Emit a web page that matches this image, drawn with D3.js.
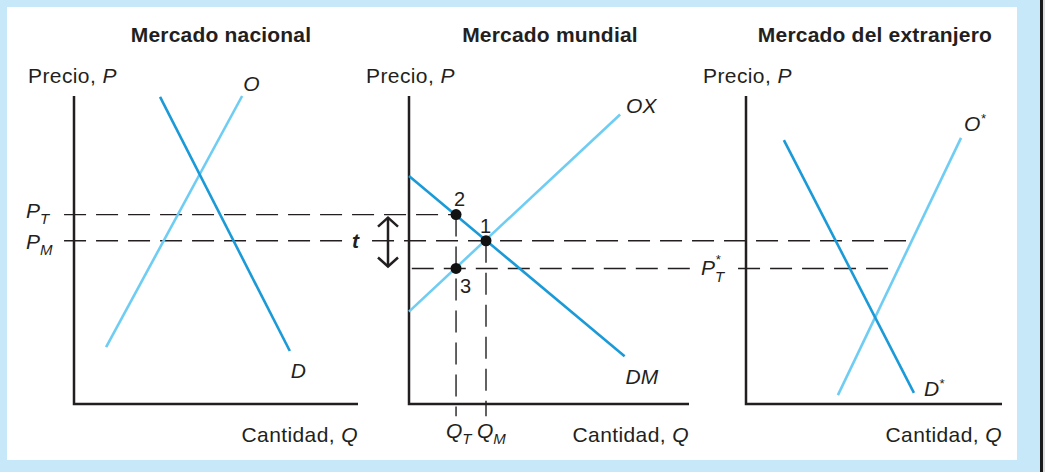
<!DOCTYPE html>
<html lang="es">
<head>
  <meta charset="utf-8">
  <title>Arancel: mercados nacional, mundial y del extranjero</title>
  <script src="https://d3js.org/d3.v7.min.js"></script>
  <style>
    body { margin: 0; background: #c6e8f8; }
    text { font-family: "Liberation Sans", Arial, sans-serif; fill: #231f20; font-size: 21px; }
    .titulo { font-weight: bold; font-size: 21px; letter-spacing: 0.2px; }
    .rotulo { font-size: 21px; letter-spacing: 0.4px; }
    .it { font-style: italic; }
    .num { font-size: 20px; }
    .eje { stroke: #231f20; stroke-width: 2.5; fill: none; }
    .guia { stroke: #231f20; stroke-width: 1.4; stroke-dasharray: 22,10; fill: none; }
    .oferta { stroke: #6fcdf4; stroke-width: 2.6; fill: none; }
    .demanda { stroke: #1b9ad8; stroke-width: 2.6; fill: none; }
  </style>
</head>
<body>
  <svg width="1045" height="472"></svg>
  <script>
    // titulos de cada panel
    var titulos = ["Mercado nacional", "Mercado mundial", "Mercado del extranjero"];

    // precios (eje vertical comun, escala 0-100)
    var pT = 61.5, pM = 53, pTEstrella = 44;
    // cantidades en el mercado mundial
    var qT = 16.8, qM = 27.5;

    // curvas: pares [Q, P]
    var ofertaNacional = [[11.3, 18.5], [59.2, 100]];
    var demandaNacional = [[30.3, 99.7], [76, 17.2]];
    var ofertaExport = [[0, 30], [75.4, 94]];
    var demandaImport = [[0, 74], [77, 15.5]];
    var ofertaExtranjera = [[35.9, 2.9], [84, 86.4]];
    var demandaExtranjera = [[14.8, 85.7], [65.6, 3.6]];

    var svg = d3.select("svg");

    // marco
    svg.append("rect").attr("x", 7).attr("y", 7).attr("width", 1010).attr("height", 453).attr("fill", "white");
    svg.append("rect").attr("x", 1040).attr("y", 0).attr("width", 3).attr("height", 472).attr("fill", "#1a1a1a");
    svg.append("rect").attr("x", 1043).attr("y", 0).attr("width", 2).attr("height", 472).attr("fill", "#d9dde0");

    var y = d3.scaleLinear().domain([0, 100]).range([404, 96]);
    var xs = [
      d3.scaleLinear().domain([0, 100]).range([74, 358]),
      d3.scaleLinear().domain([0, 100]).range([409, 689]),
      d3.scaleLinear().domain([0, 100]).range([746, 1002])
    ];
    var centros = [221, 550, 875];
    var precioX = [28, 366, 703];

    var linea = function(x) {
      return d3.line().x(d => x(d[0])).y(d => y(d[1]));
    };

    // lineas guia discontinuas
    var guias = [
      [[xs[0](-3.5), y(pT)], [xs[1](qT), y(pT)]],
      [[xs[0](-3.5), y(pM)], [xs[0](95.8), y(pM)]],
      [[xs[1](-13.2), y(pM)], [xs[2](64.8), y(pM)]],
      [[xs[1](1), y(pTEstrella)], [xs[1](101.8), y(pTEstrella)]],
      [[xs[2](-3.1), y(pTEstrella)], [xs[2](57), y(pTEstrella)]],
      [[xs[1](qT), y(pT)], [xs[1](qT), y(-4)]],
      [[xs[1](qM), y(pM)], [xs[1](qM), y(-4)]]
    ];
    svg.selectAll(".guia").data(guias).enter()
      .append("path").attr("class", "guia")
      .attr("d", d => d3.line()(d));

    titulos.forEach(function(t, i) {
      var x = xs[i];
      var g = svg.append("g");
      g.append("text").attr("class", "titulo").attr("x", centros[i]).attr("y", 42)
        .attr("text-anchor", "middle").text(t);
      var pr = g.append("text").attr("class", "rotulo").attr("x", precioX[i]).attr("y", 83);
      pr.append("tspan").text("Precio, ");
      pr.append("tspan").attr("class", "it").text("P");
      var ca = g.append("text").attr("class", "rotulo").attr("x", x(100)).attr("y", 442).attr("text-anchor", "end");
      ca.append("tspan").text("Cantidad, ");
      ca.append("tspan").attr("class", "it").text("Q");
      g.append("path").attr("class", "eje")
        .attr("d", d3.line()([[x(0), y(100)], [x(0), y(0)], [x(100), y(0)]]));
    });

    // curvas de oferta y demanda
    var curvas = [
      { panel: 0, datos: ofertaNacional, clase: "oferta" },
      { panel: 0, datos: demandaNacional, clase: "demanda" },
      { panel: 1, datos: ofertaExport, clase: "oferta" },
      { panel: 1, datos: demandaImport, clase: "demanda" },
      { panel: 2, datos: ofertaExtranjera, clase: "oferta" },
      { panel: 2, datos: demandaExtranjera, clase: "demanda" }
    ];
    svg.selectAll(".curva").data(curvas).enter()
      .append("path").attr("class", d => "curva " + d.clase)
      .attr("d", d => linea(xs[d.panel])(d.datos));

    // etiquetas de curvas
    function etiqueta(x, yy, txt, sup) {
      var t = svg.append("text").attr("class", "it").attr("x", x).attr("y", yy).text(txt);
      if (sup) t.append("tspan").attr("dy", -8).attr("font-size", 13).text("*");
      return t;
    }
    etiqueta(xs[0](59.2) + 1, 91, "O");
    etiqueta(xs[0](76) + 1, 378, "D");
    etiqueta(xs[1](75.4) + 6, 113, "OX");
    etiqueta(xs[1](77) + 1, 384, "DM");
    etiqueta(xs[2](84) + 3, 131, "O", true);
    etiqueta(xs[2](65.6) + 10, 396, "D", true);

    // etiquetas con subindice
    function sub(x, yy, base, s) {
      var t = svg.append("text").attr("class", "it").attr("x", x).attr("y", yy);
      t.append("tspan").text(base);
      t.append("tspan").attr("dy", 6).attr("font-size", 15).text(s);
      return t;
    }
    sub(26, y(pT) + 3, "P", "T");
    sub(26, y(pM) + 8, "P", "M");
    sub(446, 438, "Q", "T");
    sub(477, 438, "Q", "M");
    var pe = svg.append("text").attr("class", "it").attr("x", 701).attr("y", y(pTEstrella) + 7);
    pe.append("tspan").text("P");
    pe.append("tspan").attr("dy", 7).attr("font-size", 15).text("T");
    pe.append("tspan").attr("dx", -9).attr("dy", -18).attr("font-size", 13).text("*");

    svg.append("text").attr("class", "it").attr("x", 352).attr("y", y(pM) + 7)
      .attr("font-weight", "bold").text("t");

    // flecha del arancel
    var xa = xs[1](-7.5), y1 = y(pT) + 3, y2 = y(pTEstrella) - 2;
    svg.append("path").attr("class", "eje").attr("stroke-width", 1.5)
      .attr("d", d3.line()([[xa, y1], [xa, y2]]));
    svg.append("path").attr("class", "eje").attr("stroke-width", 1.5)
      .attr("d", d3.line()([[xa - 10, y1 + 9], [xa, y1], [xa + 10, y1 + 9]]));
    svg.append("path").attr("class", "eje").attr("stroke-width", 1.5)
      .attr("d", d3.line()([[xa - 10, y2 - 9], [xa, y2], [xa + 10, y2 - 9]]));

    // puntos de equilibrio
    var puntos = [
      { q: qM, p: pM, n: "1", dx: -6, dy: -8 },
      { q: qT, p: pT, n: "2", dx: -2, dy: -9 },
      { q: qT, p: pTEstrella, n: "3", dx: 4, dy: 25 }
    ];
    svg.selectAll(".punto").data(puntos).enter()
      .append("circle").attr("class", "punto")
      .attr("cx", d => xs[1](d.q)).attr("cy", d => y(d.p)).attr("r", 5.5)
      .attr("fill", "#111");
    svg.selectAll(".num").data(puntos).enter()
      .append("text").attr("class", "num")
      .attr("x", d => xs[1](d.q) + d.dx).attr("y", d => y(d.p) + d.dy)
      .text(d => d.n);
  </script>
</body>
</html>
